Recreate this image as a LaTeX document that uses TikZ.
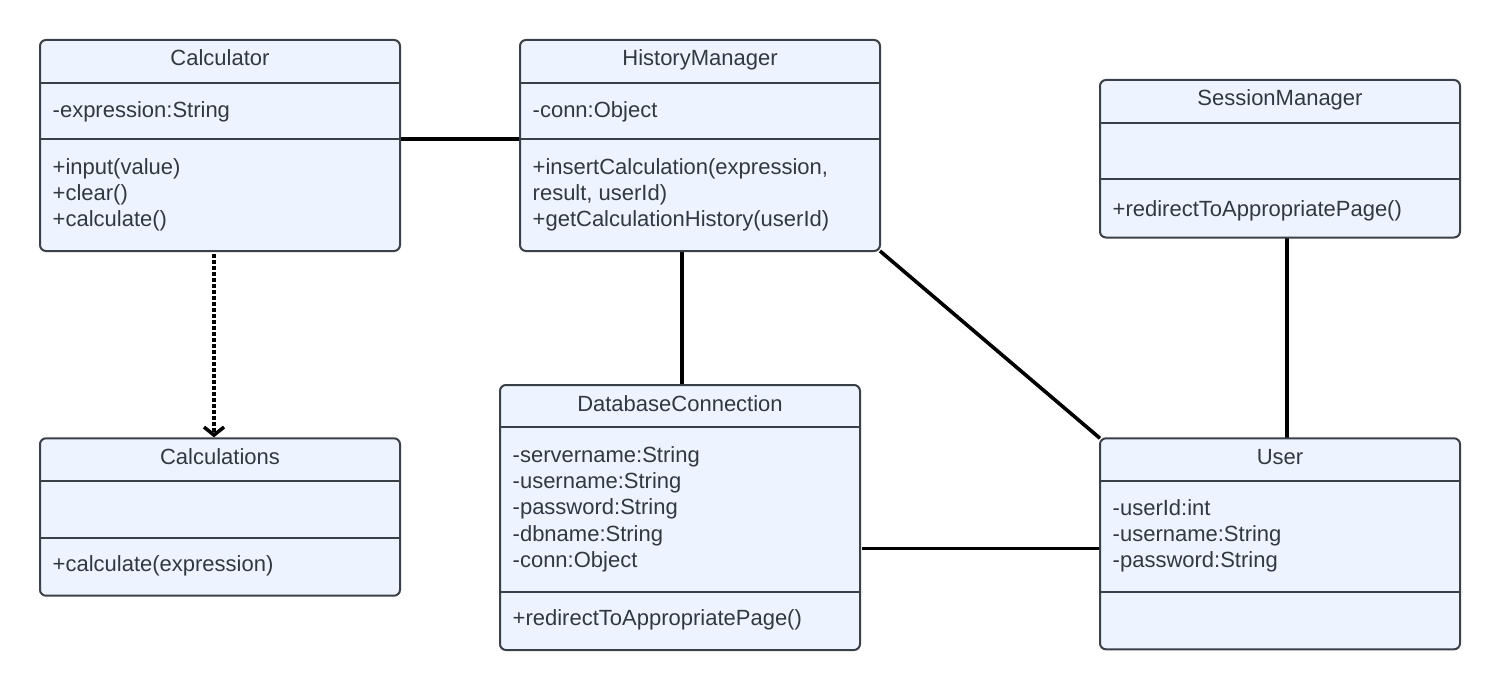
\documentclass[tikz,border=0pt]{standalone}
\usepackage{fontspec}
\setmainfont{Liberation Sans}
\usetikzlibrary{arrows.meta,calc,backgrounds}
\definecolor{boxfill}{RGB}{237,244,255}
\definecolor{boxline}{RGB}{58,64,72}
\definecolor{boxtext}{RGB}{51,56,64}
\tikzset{
  classbox/.style={draw=boxline, fill=boxfill, line width=2pt, rounded corners=6pt,
    minimum width=360pt, inner sep=0pt, outer sep=0pt},
  divider/.style={draw=boxline, line width=2pt},
  umltext/.style={text=boxtext, font=\fontsize{22}{26}\selectfont, inner sep=0pt, outer sep=0pt},
  assoc/.style={draw=black, line width=3.6pt},
  depend/.style={draw=black, line width=3.8pt, dash pattern=on 3.5pt off 2.5pt,
    -{Straight Barb[length=8pt,width=20pt,line width=3.5pt]}}
}
% name, left, top, bottom, header line y, separator y, title
\newcommand\umlclass[7]{%
  \node[classbox, anchor=north west, minimum height={#4-#3}] (#1) at (#2,#3) {};
  \draw[divider] (#2,#5) coordinate (#1-hl) -- ({#2+360},#5) coordinate (#1-hr);
  \draw[divider] (#2,#6) coordinate (#1-sl) -- ({#2+360},#6) coordinate (#1-sr);
  \node[umltext, anchor=base] (#1-title) at ({#2+180},{#3+26}) {#7};
}
% prefix, left, first baseline, line spacing, list
\newcommand\umllines[5]{%
  \foreach \txt [count=\i] in {#5} {
    \node[umltext, anchor=base west] (#1\i) at ({#2+12.7},{#3+(\i-1)*#4}) {\txt};
  }
}
\begin{document}
\begin{tikzpicture}[x=1pt,y=-1pt]
\useasboundingbox (0,0) rectangle (1500,690);

% Calculator
\umlclass{calc}{40}{40}{251}{82.7}{139.3}{Calculator}
\umllines{calc-a}{40}{117.5}{26}{-expression:String}
\umllines{calc-m}{40}{174.5}{25.8}{+input(value), +clear(), +calculate()}

% HistoryManager
\umlclass{hist}{520}{40}{251}{82.7}{139.3}{HistoryManager}
\umllines{hist-a}{520}{117.5}{26}{-conn:Object}
\umllines{hist-m}{520}{174.5}{25.8}{{+insertCalculation(expression,}, {result, userId)}, {+getCalculationHistory(userId)}}

% SessionManager
\umlclass{sm}{1100}{80}{237.5}{122.7}{179.3}{SessionManager}
\umllines{sm-m}{1100}{216}{26}{+redirectToAppropriatePage()}

% Calculations
\umlclass{calcs}{40}{438.3}{595.7}{480.7}{537.7}{Calculations}
\umllines{calcs-m}{40}{571.7}{26}{+calculate(expression)}

% DatabaseConnection
\umlclass{db}{500}{385}{650}{426.7}{591.7}{DatabaseConnection}
\umllines{db-a}{500}{462}{26.4}{-servername:String, -username:String, -password:String, -dbname:String, -conn:Object}
\umllines{db-m}{500}{625.7}{26}{+redirectToAppropriatePage()}

% User
\umlclass{user}{1100}{438.3}{649.3}{481}{591.7}{User}
\umllines{user-a}{1100}{515}{26.2}{-userId:int, -username:String, -password:String}

% connectors
\begin{scope}[on background layer]
  \draw[assoc] (calc-sr) -- (hist-sl);
  \coordinate (dbtop) at ($(db.north)+(2,0)$);
  \draw[assoc] (dbtop |- hist.south) -- (dbtop);
  \draw[assoc] (hist.south east) -- (user.north west);
  \coordinate (smbot) at ($(sm.south)+(7,0)$);
  \draw[assoc] (smbot) -- (smbot |- user.north);
  \coordinate (dbright) at ($(db.east)+(2,31)$);
  \draw[assoc] (dbright) -- (dbright -| user.west);
\end{scope}
\coordinate (depstart) at ($(calc.south)+(-6,3)$);
\draw[depend] (depstart) -- ($(depstart |- calcs.north)+(0,-1)$);
\end{tikzpicture}
\end{document}
